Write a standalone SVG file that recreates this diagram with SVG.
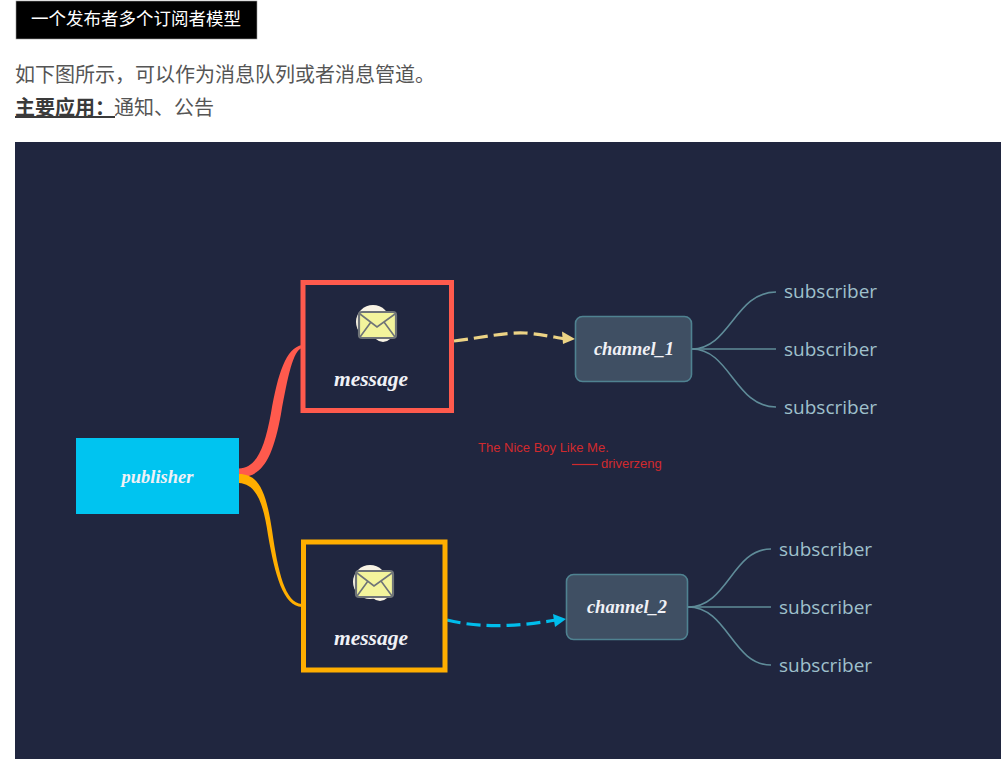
<svg xmlns="http://www.w3.org/2000/svg" width="1001" height="759" viewBox="0 0 1001 759">
<style>
.cjk{font-family:"Liberation Sans","Noto Sans CJK SC",sans-serif}
.hand{font-family:"Liberation Serif","Noto Serif",serif;font-style:italic;font-weight:700;fill:#f0f1f6;text-anchor:middle}
.sub{font-family:"Open Sans","Noto Sans",sans-serif;font-size:19px;fill:#9fc0cc}
.twig{fill:none;stroke:#5f8c99;stroke-width:1.6}
.chan{fill:#3f4f63;stroke:#4f8291;stroke-width:1.6}
.credit{font-family:"Liberation Sans",Arial,sans-serif;font-size:13px;fill:#d02a2e}
.env{fill:#f3f49c;stroke:#6f7478;stroke-width:2.200}
.flap{fill:none;stroke:#6f7478;stroke-width:1.600}
.blob{fill:#f8f3e4}
</style>
<rect width="1001" height="759" fill="#ffffff"/>
<g id="heading">
<rect x="16" y="1" width="241" height="38" fill="#000000" stroke="#9a9a9a" stroke-width="0.600"/>
<text x="31" y="25" class="cjk" font-size="17.500" fill="#ffffff">一个发布者多个订阅者模型</text>
</g>
<g id="intro">
<text x="15" y="82" class="cjk" font-size="20" fill="#555555">如下图所示，可以作为消息队列或者消息管道。</text>
<text x="15" y="115" class="cjk" font-size="20" font-weight="700" fill="#3a3a3a" text-decoration="underline">主要应用： </text>
<text x="114" y="115" class="cjk" font-size="20" fill="#555555">通知、公告</text>
</g>
<rect id="canvas" x="15" y="142" width="986" height="617" fill="#20263f"/>
<g id="connectors">
<path d="M239 468.500C255 468 264 452 271 413C278 373 286 348 302 345L302 348C293 351 288 375 281 414C273 458 262 478 239 477Z" fill="#ff5a4d"/>
<path d="M239 474C258 474 266 490 272 530C278 572 285 603 302 604L302 607C283 606 275 575 268 535C263 500 255 484 239 483Z" fill="#ffae00"/>
<path d="M454 341C480 338 505 332 525 333C540 334 553 337 566 339" fill="none" stroke="#ecd385" stroke-width="3.200" stroke-dasharray="14 6"/>
<path d="M575 339L562 331.500L563 344Z" fill="#ecd385"/>
<path d="M447 620C475 627 510 628 556 620" fill="none" stroke="#00bdec" stroke-width="3.200" stroke-dasharray="14 6"/>
<path d="M566 619L553 614L555 627Z" fill="#00bdec"/>
<path class="twig" d="M692 349C730 349 735 292 776 292"/>
<path class="twig" d="M692 349H776"/>
<path class="twig" d="M692 349C730 349 735 407 776 407"/>
<path class="twig" d="M688 607C728 607 732 549 771 549"/>
<path class="twig" d="M688 607H771"/>
<path class="twig" d="M688 607C728 607 732 665 771 665"/>
</g>
<g id="publisher">
<rect x="76" y="438" width="163" height="76" fill="#00c4f0"/>
<text x="157.500" y="483" class="hand" font-size="18.500">publisher</text>
</g>
<g id="message-1">
<rect x="303" y="282.500" width="148.500" height="128" fill="none" stroke="#ff5a4d" stroke-width="5"/>
<circle cx="373" cy="322" r="17" class="blob"/>
<circle cx="383" cy="332" r="10" class="blob"/>
<rect x="359" y="312" width="37" height="26" rx="3" class="env"/>
<path d="M360 314L377 327L395 314M360 337L371 322M395 337L384 322" class="flap"/>
<text x="371" y="386" class="hand" font-size="21.500">message</text>
</g>
<g id="message-2">
<rect x="303.500" y="542" width="141.500" height="128" fill="none" stroke="#ffae00" stroke-width="5"/>
<circle cx="370" cy="582" r="17" class="blob"/>
<circle cx="380" cy="591" r="10" class="blob"/>
<rect x="356" y="571" width="37" height="26" rx="3" class="env"/>
<path d="M357 573L374 586L392 573M357 596L368 581M392 596L381 581" class="flap"/>
<text x="371" y="645" class="hand" font-size="21.500">message</text>
</g>
<g id="channel-1">
<rect x="575.500" y="316.500" width="116" height="65" rx="7" class="chan"/>
<text x="634" y="355" class="hand" font-size="18.500">channel_1</text>
</g>
<g id="channel-2">
<rect x="566.500" y="574.500" width="121" height="65" rx="7" class="chan"/>
<text x="627" y="613" class="hand" font-size="18.500">channel_2</text>
</g>
<g id="subscribers-1">
<text x="784" y="298" class="sub">subscriber</text>
<text x="784" y="356" class="sub">subscriber</text>
<text x="784" y="414" class="sub">subscriber</text>
</g>
<g id="subscribers-2">
<text x="779" y="556" class="sub">subscriber</text>
<text x="779" y="614" class="sub">subscriber</text>
<text x="779" y="672" class="sub">subscriber</text>
</g>
<g id="credit">
<text x="478" y="452" class="credit">The Nice Boy Like Me.</text>
<path d="M572 464.500H598" stroke="#d02a2e" stroke-width="1.200"/>
<text x="601" y="468" class="credit">driverzeng</text>
</g>
</svg>
